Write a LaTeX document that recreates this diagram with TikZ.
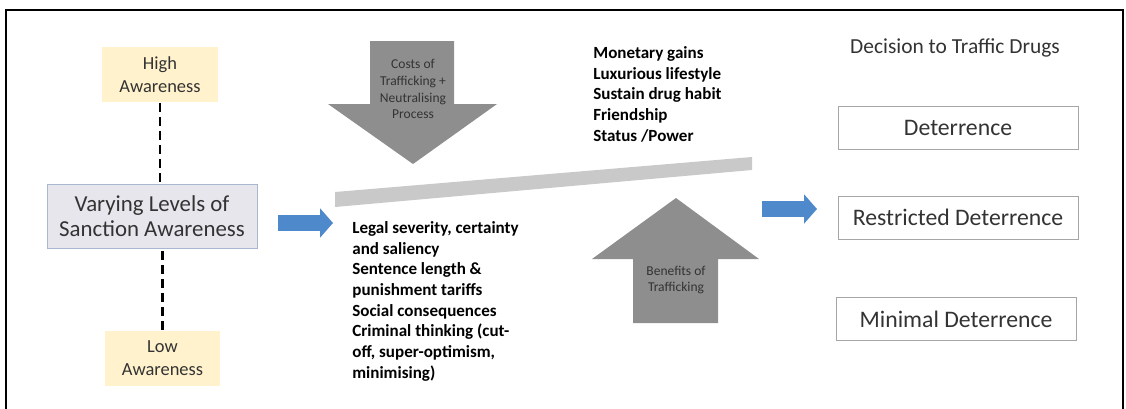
\documentclass[tikz,border=0pt]{standalone}
\usepackage{fontspec}
\setmainfont{Carlito}
\usepackage{xcolor}
\usepackage{tikz}
\usetikzlibrary{arrows.meta}
\definecolor{awyellow}{HTML}{FFF2CC}
\definecolor{varyfill}{HTML}{E7E6EC}
\definecolor{varyline}{HTML}{A8B8D0}
\definecolor{arrowblue}{HTML}{4E8ACB}
\definecolor{blockgray}{HTML}{8E8E8E}
\definecolor{bargray}{HTML}{C9C9C9}
\definecolor{boxline}{HTML}{A6A6A6}
\definecolor{textgray}{HTML}{333333}

\begin{document}
\begin{tikzpicture}[x=0.02cm, y=-0.02cm,
  awbox/.style={fill=awyellow, minimum width=2.32cm, minimum height=1.12cm, align=center, text=textgray, font=\fontsize{10.5}{13}\selectfont},
  decbox/.style={draw=boxline, fill=white, minimum width=4.8cm, minimum height=0.86cm, text=textgray, font=\fontsize{13.5}{16}\selectfont},
  awdash/.style={line width=1.5pt, dash pattern=on 5pt off 3pt},
  bluearr/.style={arrowblue, line width=9.6pt, -{Triangle[width=16.4pt, length=7.4pt]}},
  listtext/.style={inner sep=0pt, anchor=north west, align=left, font=\bfseries\fontsize{9.7}{11.8}\selectfont},
  blocktext/.style={align=center, text=textgray, font=\fontsize{7.7}{9.6}\selectfont}]
\useasboundingbox (0,0) rectangle (1126,409);
\draw[line width=1.3pt] (6,409) -- (6,10) -- (1123,10) -- (1123,409);

\node[awbox] (high) at (160,74.5) {High\\Awareness};
\node[draw=varyline, fill=varyfill, minimum width=4.2cm, minimum height=1.28cm, align=center, text=textgray, font=\fontsize{13}{14.5}\selectfont] (vary) at (152,216) {Varying Levels of\\Sanction Awareness};
\node[awbox] (low) at (162.5,358.5) {Low\\Awareness};
\draw[awdash] (high.south) -- (high.south |- vary.north);
\draw[awdash] (low.north) -- (low.north |- vary.south);

\fill[blockgray] (370,41) -- (454,41) -- (454,104) -- (497,104) -- (413,164) -- (328,104) -- (370,104) -- cycle;
\node[blocktext] (costs) at (413,89) {Costs of\\Trafficking +\\Neutralising\\Process};
\fill[bargray] (335,192) -- (752,157) -- (752,170) -- (335,207) -- cycle;
\fill[blockgray] (676,198) -- (759,259) -- (718,259) -- (718,323) -- (633,323) -- (633,259) -- (592,259) -- cycle;
\node[blocktext] (benefits) at (676,280) {Benefits of\\Trafficking};

\node[listtext] (gains) at (593,46) {Monetary gains\\Luxurious lifestyle\\Sustain drug habit\\Friendship\\Status /Power};
\node[listtext] (legal) at (352,221) {Legal severity, certainty\\and saliency\\Sentence length \&\\punishment tariffs\\Social consequences\\Criminal thinking (cut-\\off, super-optimism,\\minimising)};

\coordinate (in1) at (278,223);
\coordinate (out1) at (333,223);
\draw[bluearr] (in1) -- (out1);
\coordinate (in2) at (762,209);
\coordinate (out2) at (817,209);
\draw[bluearr] (in2) -- (out2);

\node[text=textgray, font=\fontsize{12.2}{14}\selectfont] (decision) at (955,48) {Decision to Traffic Drugs};
\node[decbox] (det) at (958,128) {Deterrence};
\node[decbox] (restricted) at (958,217.5) {Restricted Deterrence};
\node[decbox] (minimal) at (956,319) {Minimal Deterrence};
\end{tikzpicture}
\end{document}
